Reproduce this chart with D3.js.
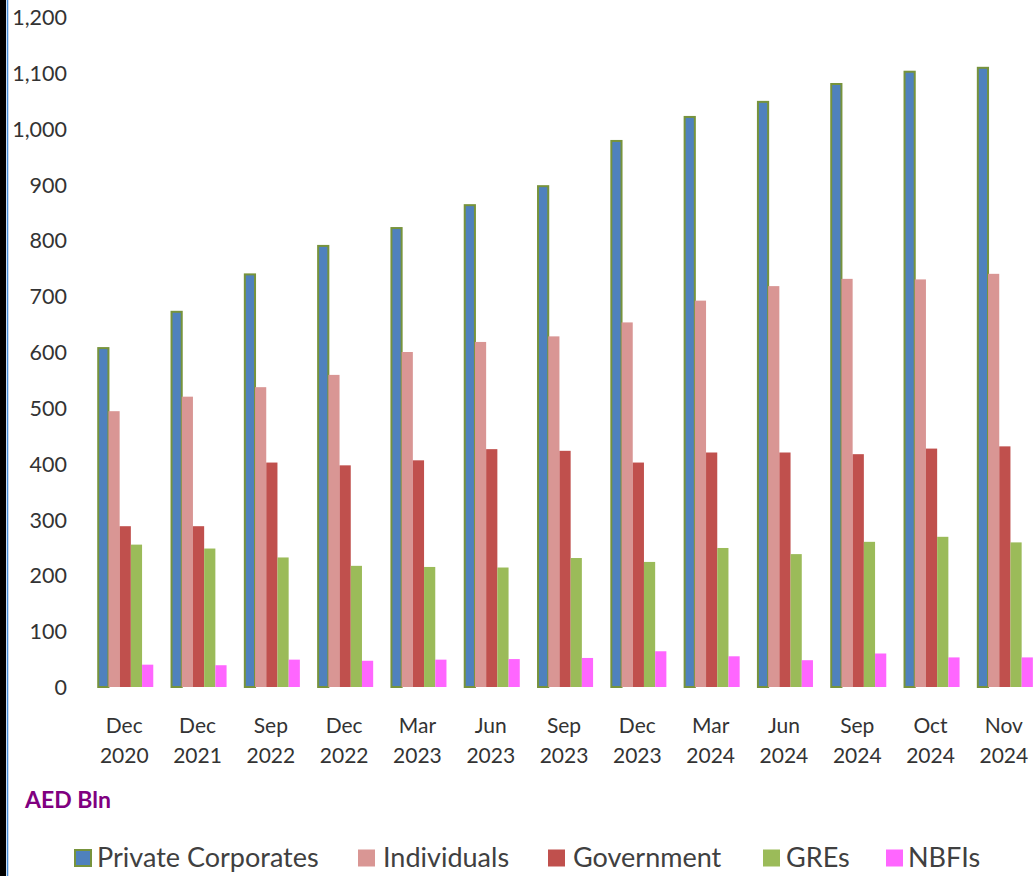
<!DOCTYPE html>
<html><head><meta charset="utf-8">
<script src="https://cdn.jsdelivr.net/npm/d3@7"></script>
<style>html,body{margin:0;padding:0;background:#fff;overflow:hidden}</style>
</head><body>
<svg id="c" width="1035" height="876"></svg>
<script>
const categories = [["Dec","2020"],["Dec","2021"],["Sep","2022"],["Dec","2022"],["Mar","2023"],["Jun","2023"],["Sep","2023"],["Dec","2023"],["Mar","2024"],["Jun","2024"],["Sep","2024"],["Oct","2024"],["Nov","2024"]];
const seriesNames = ["Private Corporates","Individuals","Government","GREs","NBFIs"];
const privateCorporates = [607,672,739,790,822,863,897,978,1021,1048,1080,1102,1109];
const individuals       = [494,520,537,559,600,618,628,653,692,718,731,730,740];
const government        = [288,288,402,397,406,426,423,402,420,420,417,427,431];
const gres              = [255,248,232,217,215,214,231,224,249,238,260,269,259];
const nbfis             = [40,39,49,47,49,50,52,64,55,48,60,53,53];
const yTicks = [0,100,200,300,400,500,600,700,800,900,1000,1100,1200];
const colors = ["#4F81BD","#D99694","#C0504D","#9BBB59","#FF66FF"];
const seriesValues = [privateCorporates, individuals, government, gres, nbfis];

const svg = d3.select("#c");
const font = "Lato, 'Open Sans', sans-serif";

// frame edge
svg.append("rect").attr("x",0).attr("y",0).attr("width",6).attr("height",876).attr("fill","#000");
svg.append("line").attr("x1",7.5).attr("x2",7.5).attr("y1",0).attr("y2",876).attr("stroke","#4A8FD8").attr("stroke-width",1.6);

const catKeys = categories.map(c => c.join(" "));
const x = d3.scaleBand().domain(catKeys).range([88.6, 88.6 + 13*73.3]).paddingInner(0).paddingOuter(0);
const xs = d3.scaleBand().domain(seriesNames).range([0, x.bandwidth()]).paddingInner(0).paddingOuter(0.77);
const y = d3.scaleLinear().domain([0,1200]).range([687,17]);

// y axis
const yAxis = d3.axisLeft(y).tickValues(yTicks).tickFormat(d3.format(",")).tickSize(0).tickPadding(0);
const gy = svg.append("g").attr("transform","translate(67,0)").call(yAxis);
gy.select(".domain").remove();
gy.selectAll("text").attr("font-family",font).attr("font-size",21.5).attr("fill","#333").attr("dy","0.35em");

// bars
const groups = svg.append("g").selectAll("g").data(categories).join("g")
  .attr("transform",(d)=>`translate(${x(d.join(" "))},0)`);
groups.selectAll("rect").data((d,i)=>seriesNames.map((s,k)=>({s,k,v:seriesValues[k][i]}))).join("rect")
  .attr("x",d=>xs(d.s) + (d.k===0?1:0))
  .attr("width",d=>xs.bandwidth() - (d.k===0?1:0))
  .attr("y",d=>y(d.v))
  .attr("height",d=>y(0)-y(d.v))
  .attr("fill",d=>colors[d.k])
  .attr("stroke",d=>d.k===0?"#77933C":"none")
  .attr("stroke-width",d=>d.k===0?2:0);

// x labels
const cx = d => x(d.join(" "))+x.bandwidth()/2 - 1;
const xl = svg.append("g").selectAll("text").data(categories).join("text")
  .attr("text-anchor","middle").attr("font-family",font).attr("font-size",21).attr("fill","#333");
xl.append("tspan").attr("x",cx).attr("y",733).text(d=>d[0]);
xl.append("tspan").attr("x",cx).attr("y",763).text(d=>d[1]);

// unit label
svg.append("text").attr("x",25).attr("y",808).attr("font-family",font).attr("font-size",23)
  .attr("font-weight","bold").attr("fill","#800080").text("AED Bln");

// legend
const legMarkX = [74,358,548,763,886];
const legTextX = [97,383,573,786,908];
const lg = svg.append("g").selectAll("g").data(seriesNames).join("g");
lg.append("rect")
  .attr("x",(d,i)=>legMarkX[i] + (i===0?1:0)).attr("y",(d,i)=>849.5 + (i===0?0.5:0))
  .attr("width",(d,i)=>i===0?16:17).attr("height",(d,i)=>i===0?16:17)
  .attr("fill",(d,i)=>colors[i]).attr("stroke",(d,i)=>i===0?"#77933C":"none").attr("stroke-width",2);
lg.append("text").attr("x",(d,i)=>legTextX[i]).attr("y",867).attr("font-family",font).attr("font-size",27).attr("fill","#404040").text(d=>d);
</script>
</body></html>
